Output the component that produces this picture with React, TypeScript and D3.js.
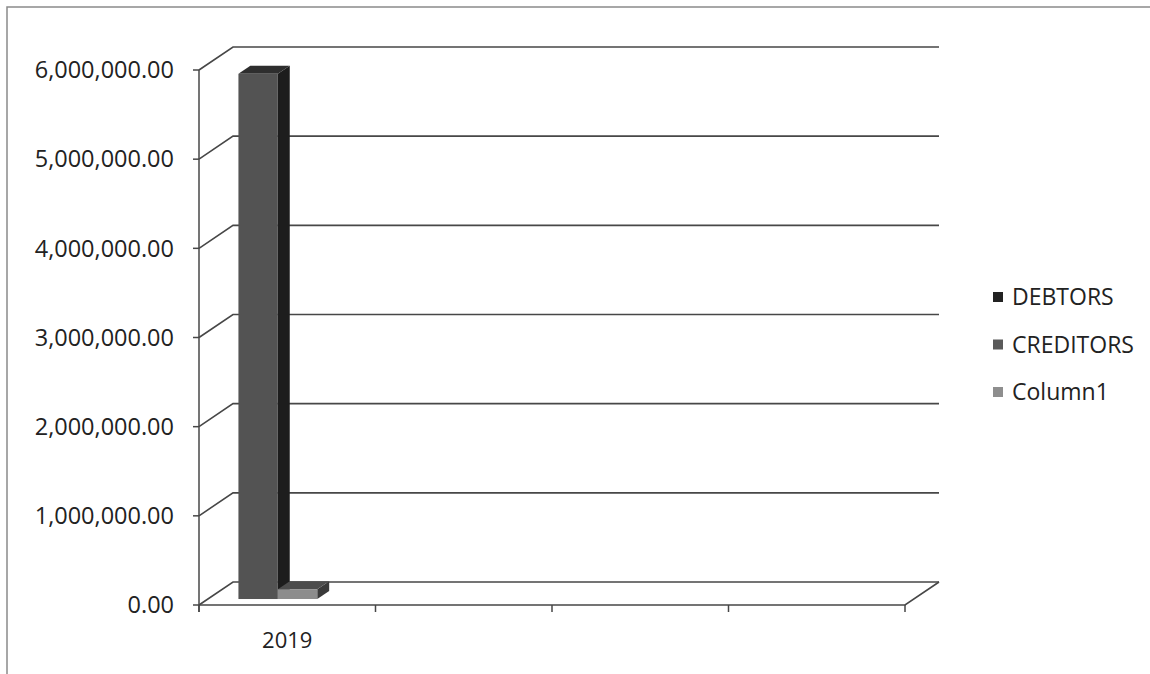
import React from 'react';
import * as d3 from 'd3';

const categories = ['2019', '', ' ', '  '];
const seriesNames = ['DEBTORS', 'CREDITORS', 'Column1'];
const debtors: (number | null)[] = [0, null, null, null];
const creditors: (number | null)[] = [5890000, null, null, null];
const column1: (number | null)[] = [110000, null, null, null];
const yTicks = [0, 1000000, 2000000, 3000000, 4000000, 5000000, 6000000];

const seriesValues = [debtors, creditors, column1];
const faceColors = [
  { front: '#262626', side: '#111111', top: '#1c1c1c', legend: '#222222' },
  { front: '#535353', side: '#1d1d1d', top: '#2e2e2e', legend: '#5a5a5a' },
  { front: '#8c8c8c', side: '#3a3a3a', top: '#4d4d4d', legend: '#8e8e8e' },
];

const W = 1150;
const H = 674;
const FONT = "'Open Sans', 'Liberation Sans', sans-serif";

export default function App() {
  const left = 199;
  const right = 905;
  const ddx = 34;
  const ddy = -23;
  const y = d3.scaleLinear().domain([0, 6000000]).range([605, 70]);
  const x0 = d3.scaleBand<string>().domain(categories).range([left, right]).padding(0);
  const bw = x0.bandwidth();
  const x1 = d3.scaleBand<string>().domain(seriesNames).range([-0.05 * bw, 0.62 * bw]).padding(0);
  const f1 = 0.26;
  const f2 = 0.61;
  const fmt = d3.format(',.2f');
  const gridColor = '#474747';

  const bars: JSX.Element[] = [];
  categories.forEach((c, ci) => {
    seriesNames.forEach((s, si) => {
      const v = seriesValues[si][ci];
      if (v == null || v <= 0) return;
      const xs = (x0(c) as number) + (x1(s) as number);
      const w = x1.bandwidth();
      const fx = xs + f1 * ddx;
      const fyb = y(0) + f1 * ddy;
      const fyt = y(v) + f1 * ddy;
      const bdx = (f2 - f1) * ddx;
      const bdy = (f2 - f1) * ddy;
      const col = faceColors[si];
      bars.push(
        <g key={`${ci}-${si}`}>
          <path
            d={`M${fx + w},${fyt} L${fx + w + bdx},${fyt + bdy} L${fx + w + bdx},${fyb + bdy} L${fx + w},${fyb} Z`}
            fill={col.side}
          />
          <path
            d={`M${fx},${fyt} L${fx + bdx},${fyt + bdy} L${fx + w + bdx},${fyt + bdy} L${fx + w},${fyt} Z`}
            fill={col.top}
          />
          <rect x={fx} y={fyt} width={w} height={fyb - fyt} fill={col.front} />
        </g>
      );
    });
  });

  return (
    <svg
      width={W}
      height={H}
      style={{ position: 'absolute', left: 0, top: 0, background: '#fff' }}
    >
      <rect x={7} y={7} width={W + 20} height={H + 20} fill="none" stroke="#8a8a8a" strokeWidth={1.5} />
      {yTicks.map((t) => (
        <g key={t}>
          <path
            d={`M${left},${y(t)} L${left + ddx},${y(t) + ddy} L${right + ddx},${y(t) + ddy}`}
            fill="none"
            stroke={gridColor}
            strokeWidth={1.6}
          />
          <line x1={left - 6} x2={left} y1={y(t)} y2={y(t)} stroke={gridColor} strokeWidth={1.5} />
          <text
            x={174}
            y={y(t)}
            dy="0.35em"
            textAnchor="end"
            fontFamily={FONT}
            fontSize={23.5}
            fill="#222"
          >
            {fmt(t)}
          </text>
        </g>
      ))}
      <path
        d={`M${left},${y(0)} L${right},${y(0)} L${right + ddx},${y(0) + ddy}`}
        fill="none"
        stroke={gridColor}
        strokeWidth={1.6}
      />
      <line x1={left} x2={left} y1={y(6000000)} y2={y(0) + 7} stroke={gridColor} strokeWidth={1.5} />
      {[...categories.map((c) => x0(c) as number), right].map((xv, i) => (
        <line key={i} x1={xv} x2={xv} y1={y(0)} y2={y(0) + 7} stroke={gridColor} strokeWidth={1.5} />
      ))}
      {categories.map((c) => (
        <text
          key={c}
          x={(x0(c) as number) + bw / 2}
          y={y(0) + 43}
          textAnchor="middle"
          fontFamily={FONT}
          fontSize={22}
          fill="#222"
        >
          {c.trim()}
        </text>
      ))}
      {bars}
      {seriesNames.map((s, i) => (
        <g key={s} transform={`translate(993, ${297 + i * 47.5})`}>
          <rect x={0} y={-5} width={10} height={10} fill={faceColors[i].legend} />
          <text x={19} y={0} dy="0.35em" fontFamily={FONT} fontSize={23} fill="#222">
            {s}
          </text>
        </g>
      ))}
    </svg>
  );
}
